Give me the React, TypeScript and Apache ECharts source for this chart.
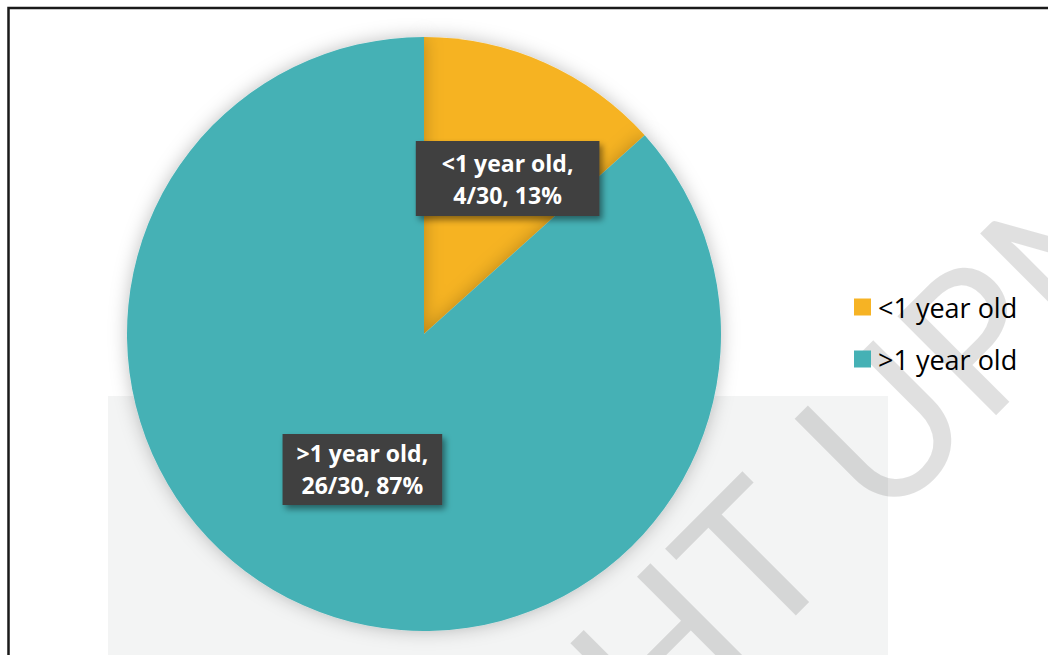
import React, { useEffect, useRef } from "react";
import * as echarts from "echarts";

const categories = ["<1 year old", ">1 year old"];
const counts = [4, 26];
const colors = ["#F6B324", "#45B1B5"];

export default function App() {
  const ref = useRef<HTMLDivElement>(null);
  useEffect(() => {
    if (!ref.current) return;
    const chart = echarts.init(ref.current, undefined, { renderer: "svg" });
    const total = counts.reduce((a, b) => a + b, 0);
    const data = categories.map((name, i) => ({
      name,
      value: counts[i],
      itemStyle: { color: colors[i] },
      label: { padding: i === 0 ? [6, 26, 5, 26] : [4, 14, 3, 14] },
    }));
    chart.setOption({
      animation: false,
      backgroundColor: "#ffffff",
      graphic: [
        {
          type: "rect",
          z: -10,
          shape: { x: 108, y: 396, width: 780, height: 270 },
          style: { fill: "#f3f4f4" },
        },
        {
          type: "text",
          z: -9,
          x: 859,
          y: 584,
          rotation: Math.PI / 4,
          style: {
            text: "COPYRIGHT",
            fontFamily: "Lato",
            fontSize: 195,
            fontWeight: 400,
            fill: "rgba(0,0,0,0.12)",
            textAlign: "right",
            textVerticalAlign: "bottom",
          },
        },
        {
          type: "text",
          z: -9,
          x: 898,
          y: 545,
          rotation: Math.PI / 4,
          style: {
            text: "UPM",
            fontFamily: "Lato",
            fontSize: 195,
            fontWeight: 400,
            fill: "rgba(0,0,0,0.12)",
            textAlign: "left",
            textVerticalAlign: "bottom",
          },
        },
        {
          type: "polyline",
          z: 100,
          shape: { points: [[8.5, 660], [8.5, 8], [1060, 8]] },
          style: { stroke: "#1a1a1a", lineWidth: 2.5, fill: null },
        },
      ],
      legend: {
        orient: "vertical",
        left: 849,
        top: 287,
        itemWidth: 17,
        itemHeight: 17,
        itemGap: 22,
        icon: "rect",
        data: categories,
        textStyle: {
          fontFamily: "Open Sans",
          fontSize: 27,
          lineHeight: 30,
          color: "#000000",
          padding: [0, 0, 0, 2],
        },
      },
      series: [
        {
          type: "pie",
          center: [424, 334],
          radius: [0, 297],
          startAngle: 90,
          clockwise: true,
          data,
          itemStyle: {
            shadowBlur: 18,
            shadowColor: "rgba(0,0,0,0.25)",
          },
          emphasis: { disabled: true },
          labelLine: { show: false },
          label: {
            show: true,
            position: "inside",
            formatter: (p: any) =>
              `${p.name},\n${p.value}/${total}, ${Math.round(p.percent)}%`,
            color: "#ffffff",
            fontFamily: "Open Sans",
            fontWeight: "bold",
            fontSize: 23,
            lineHeight: 32,
            align: "center",
            backgroundColor: "#3f3f3f",
            shadowBlur: 6,
            shadowColor: "rgba(0,0,0,0.45)",
            shadowOffsetX: 3,
            shadowOffsetY: 4,
          },
          labelLayout: (params: any) =>
            params.dataIndex === 0 ? { dx: 22, dy: -17 } : { dy: -3 },
        },
      ],
    });
    return () => chart.dispose();
  }, []);
  return (
    <div
      ref={ref}
      style={{ position: "fixed", left: 0, top: 0, width: 1048, height: 655 }}
    />
  );
}
